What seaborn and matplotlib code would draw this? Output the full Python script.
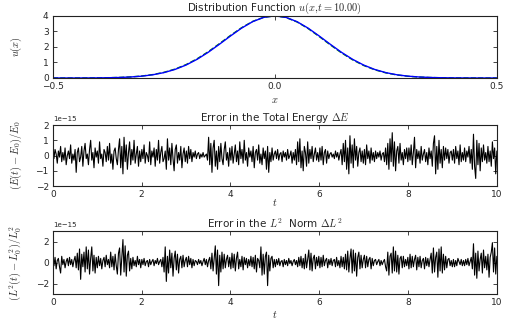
import numpy as np
import matplotlib
matplotlib.use('Agg')
import matplotlib.pyplot as plt
import seaborn as sns

# distribution function u(x) at t = 10
x_vals = [-0.5, -0.475, -0.45, -0.425, -0.4, -0.375, -0.35, -0.325, -0.3, -0.275,
          -0.25, -0.225, -0.2, -0.175, -0.15, -0.125, -0.1, -0.075, -0.05, -0.025,
          0.0, 0.025, 0.05, 0.075, 0.1, 0.125, 0.15, 0.175, 0.2, 0.225,
          0.25, 0.275, 0.3, 0.325, 0.35, 0.375, 0.4, 0.425, 0.45, 0.475, 0.5]
u_num = [0.0, 0.0, 0.001, 0.003, 0.008, 0.016, 0.033, 0.064, 0.117, 0.206,
         0.345, 0.549, 0.833, 1.204, 1.655, 2.168, 2.702, 3.208, 3.626, 3.903,
         4.0, 3.903, 3.626, 3.208, 2.702, 2.168, 1.655, 1.204, 0.833, 0.549,
         0.345, 0.206, 0.117, 0.064, 0.033, 0.016, 0.008, 0.003, 0.001, 0.0, 0.0]
u_init = [0.0, 0.0, 0.001, 0.003, 0.009, 0.018, 0.036, 0.069, 0.125, 0.219,
          0.362, 0.572, 0.862, 1.238, 1.693, 2.207, 2.738, 3.236, 3.644, 3.910,
          4.0, 3.896, 3.607, 3.180, 2.666, 2.130, 1.618, 1.171, 0.805, 0.527,
          0.329, 0.195, 0.110, 0.059, 0.030, 0.015, 0.007, 0.003, 0.001, 0.0, 0.0]

# relative errors in units of 1e-15, 40 samples per unit of time
energy_err = [
    0.9, -0.2, 0.4, 0.1, -0.5, 0.3, -0.1, 0.6, -0.4, 0.2,
    -0.3, 0.5, -0.6, 0.0, 0.3, -0.2, 0.7, -0.5, 0.1, -0.3,
    0.4, -1.1, 0.2, 0.5, -0.4, -0.1, 0.6, -0.7, 0.3, 0.8,
    -0.2, 0.1, -0.6, 0.4, 1.0, -0.3, 0.2, -0.8, 0.5, -0.1,
    0.3, -0.5, 0.9, -0.2, 0.1, -0.7, 0.4, 0.2, -0.4, 0.6,
    -0.3, 0.8, -0.5, 0.1, -0.9, 0.3, 0.5, -0.2, -0.6, 0.4,
    1.1, -0.8, 0.6, -1.2, 1.2, -0.4, 0.7, -0.9, 0.2, 0.9,
    -0.6, 0.4, -0.3, 1.0, -0.5, 0.1, 0.6, -0.7, 0.3, -0.4,
    0.4, -0.2, 0.7, -0.5, 0.2, 0.0, -0.4, 0.9, -0.6, 0.3,
    -0.1, 0.5, -0.7, 0.4, -0.3, 1.0, -0.5, 0.2, 0.6, -0.4,
    -0.2, 0.3, -0.9, 1.1, -0.3, 0.5, -0.6, 0.8, -0.2, -1.0,
    0.4, 0.7, -0.5, 0.2, -0.3, 0.6, -0.8, 0.1, 0.5, -0.4,
    0.3, -0.5, 0.6, -0.2, 0.4, -0.4, 0.2, -0.1, 0.3, -0.2,
    0.1, 0.2, -0.2, 0.1, -0.1, 0.2, -0.1, 0.0, 0.1, -0.3,
    1.2, -0.6, 0.8, -1.1, 0.5, 1.0, -0.7, 0.3, -0.9, 0.6,
    -0.4, 0.8, -0.2, -0.6, 0.4, 0.9, -0.3, 0.2, -0.7, 0.5,
    -0.3, 0.6, -0.5, 0.1, 0.7, -0.4, 0.3, -0.6, 0.9, -0.2,
    0.4, -0.5, 1.0, -0.3, 0.2, -0.7, 0.5, -0.1, 0.3, -0.4,
    0.6, -0.8, 0.2, 0.4, -0.3, 0.7, -0.5, 0.1, -0.6, 0.5,
    -0.2, 0.3, -0.9, 0.6, -1.1, 0.2, -0.4, 0.5, -0.3, 0.1,
    0.3, -0.2, 0.4, -0.3, 0.1, 0.2, -0.4, 0.3, -0.1, 0.2,
    -0.3, 0.4, -0.2, 0.0, 0.3, -0.5, 0.2, -0.3, 0.4, -0.6,
    0.9, -0.4, 1.1, -0.8, 0.3, -1.0, 0.6, 0.2, -0.7, 0.9,
    -0.5, 0.4, -0.2, 0.6, -0.4, 0.1, 0.5, -0.3, 0.2, -0.4,
    0.5, -0.3, 0.6, -0.6, 0.2, 0.4, -0.5, 0.3, -0.2, 0.1,
    0.2, -0.1, 0.1, -0.2, 0.3, -0.1, 0.2, -0.3, 0.1, 0.4,
    -0.6, 0.8, -0.4, 1.0, -0.9, 0.5, -1.2, 1.3, -0.5, 0.7,
    -0.8, 1.1, -0.3, 0.6, -0.7, 0.2, 0.5, -0.4, 0.3, -0.5,
    0.4, -0.6, 0.7, -0.2, 0.3, -0.5, 0.5, -0.3, 0.2, -0.4,
    0.3, -0.2, 0.2, -0.1, 0.3, -0.3, 0.1, 0.2, -0.4, 0.5,
    -0.6, 0.8, -0.9, 1.1, -0.4, 1.5, -0.7, 0.9, -1.0, 0.3,
    0.6, -0.5, 0.8, -0.3, 0.2, -0.6, 0.4, -0.2, 0.5, -0.4,
    0.5, -0.3, 0.7, -0.6, 0.2, 1.2, -0.8, 0.4, -0.2, 0.3,
    -0.5, 0.6, -0.3, 0.1, 0.4, -0.4, 0.2, -0.6, 0.5, -0.2,
    0.3, -0.7, 0.8, 1.3, -1.2, 0.6, -0.9, 1.0, -0.5, 0.4,
    -0.8, 0.6, -0.3, 0.5, -0.2, 0.4, -0.5, 0.2, 0.3, -0.3,
    0.4, -0.5, 0.6, -0.2, 0.3, -0.6, 0.7, -0.4, 0.2, -0.3,
    0.5, -0.4, 0.3, -0.1, 0.6, -0.5, 0.4, -0.9, 1.4, -0.7,
    -1.5, 1.0, -0.6, 0.8, -1.0, 0.5, -0.4, 0.7, -0.3, 0.2,
    -0.5, 0.6, -0.4, 0.3, -0.7, 0.9, -0.2, 0.5, -1.2, 0.3,
]
l2_err = [
    0.8, -0.3, 0.5, -0.6, 0.2, 0.4, -0.4, -1.0, 0.6, -0.2,
    0.3, -0.5, 0.1, 0.4, -0.3, 0.5, -0.2, 0.3, -0.4, 0.2,
    0.6, -0.5, 0.9, -0.7, 1.3, -1.6, 0.8, -0.4, 1.0, -0.9,
    1.5, -0.6, 1.2, -1.1, 0.4, 1.5, -0.8, 0.7, -1.0, 0.5,
    -0.5, 0.6, -0.3, 0.4, -0.6, 0.2, 0.5, -0.4, 0.7, -0.2,
    0.3, -0.5, 1.0, -0.4, 0.6, -0.7, 0.8, -0.3, -1.1, 0.9,
    1.4, -1.2, 0.5, 2.2, -0.9, 1.6, -1.3, 0.7, 1.1, -0.8,
    0.4, -0.6, 0.5, -0.3, 0.2, -0.4, 0.6, -0.2, 0.3, -0.5,
    0.3, -0.2, 0.4, -0.3, 0.1, 0.2, -0.4, 0.3, -0.2, 0.1,
    0.3, -0.3, 0.2, -0.1, 0.4, -0.2, 0.1, 0.3, -0.4, 0.5,
    -0.9, 1.5, -1.8, 0.6, -1.0, 1.2, -0.5, 0.9, -1.3, 0.4,
    1.1, -0.7, 0.8, -1.0, 0.3, 0.6, -0.5, 0.7, -0.4, 0.2,
    0.5, -0.4, 0.6, -0.2, 0.4, -0.5, 0.3, -0.3, 0.2, 0.1,
    -0.2, 0.3, -0.1, 0.2, -0.3, 0.1, 0.4, -0.2, 0.3, -0.4,
    0.2, 0.5, -0.6, 0.9, -0.8, 0.4, 1.6, -1.1, 1.2, -2.2,
    0.7, -0.9, 1.0, -0.6, 0.8, -0.5, 0.3, 0.7, -0.4, 0.5,
    -0.6, 0.9, -0.5, 0.8, -0.8, 0.4, 1.0, -0.6, 0.3, -0.4,
    0.6, -0.7, 0.5, -0.2, 0.4, -0.5, 0.3, -0.3, 0.6, -0.4,
    0.5, -0.6, 0.7, -0.9, 0.4, 0.2, -0.5, 1.5, -1.2, 0.8,
    -1.1, 0.6, 1.0, -2.2, 0.7, -0.8, 0.4, 0.6, -0.5, 0.3,
    -0.4, 0.3, -0.2, 0.4, -0.3, 0.1, 0.2, -0.4, 0.3, -0.2,
    0.2, -0.3, 0.4, -0.1, 0.2, -0.3, 0.1, 0.3, -0.2, 0.2,
    -0.4, 0.5, -0.3, 0.6, -0.5, 0.4, -0.6, 0.8, -0.5, 0.3,
    1.2, -0.7, 0.9, -0.8, 0.4, 0.7, -0.6, 0.5, -0.3, 0.6,
    -0.5, 0.5, -0.4, 0.7, -0.3, 0.2, 0.4, -0.5, 0.3, -0.2,
    0.4, -0.3, 0.2, 0.3, -0.4, 0.5, -0.3, 0.2, -0.5, 0.6,
    -0.4, 0.5, -0.6, 0.8, -0.7, 1.1, -0.9, 0.4, 1.3, -1.0,
    1.2, -0.8, 0.9, -1.3, 0.5, 1.0, -0.6, 0.7, -0.5, 0.3,
    0.7, -0.5, 0.6, -0.4, 0.3, 0.5, -0.6, 0.4, -0.3, 0.2,
    0.3, -0.2, 0.1, 0.3, -0.3, 0.2, -0.2, 0.1, 0.3, -0.4,
    -0.8, 1.0, -1.2, 0.6, 0.9, -1.0, 1.5, -0.8, 1.1, -0.9,
    0.7, -1.1, 0.4, 0.6, -0.5, 0.6, -0.4, 0.3, -0.3, 0.5,
    -0.6, 0.8, -0.5, 0.6, -0.4, 0.3, 0.7, -0.7, 0.5, -0.4,
    0.6, -0.5, 0.2, 0.4, -0.6, 0.5, -0.3, 0.4, -0.4, 0.3,
    0.9, -1.0, 1.4, -0.9, 0.5, 1.0, -1.4, 1.3, -0.8, 1.5,
    -1.0, 0.8, -0.7, 0.6, -0.5, 0.3, 0.4, -0.3, 0.2, -0.4,
    0.3, -0.4, 0.2, -0.3, 0.4, 0.1, -0.2, 0.3, -0.3, 0.2,
    -0.3, 0.3, -0.2, 0.4, -0.3, 0.1, 0.5, -0.6, 1.8, -1.2,
    0.9, -1.5, 1.1, -0.8, 0.3, 0.9, -1.0, 1.2, -0.5, 0.6,
    -0.7, 0.8, -1.4, 0.5, 1.0, 1.9, -0.9, 1.4, -1.1, 0.6,
]
err_scale = 1e-15
t_start, t_end = 0.0, 10.0

sns.set_style('ticks')
plt.rcParams['font.family'] = ['DejaVu Sans']
plt.rcParams['mathtext.fontset'] = 'cm'
plt.rcParams['xtick.direction'] = 'in'
plt.rcParams['ytick.direction'] = 'in'
plt.rcParams['xtick.top'] = True
plt.rcParams['ytick.right'] = True
plt.rcParams['font.size'] = 6.5

fig = plt.figure(figsize=(5.23, 3.27), dpi=100)
ax1 = fig.add_axes([0.101, 0.7615, 0.849, 0.190])
ax2 = fig.add_axes([0.101, 0.431, 0.849, 0.1865])
ax3 = fig.add_axes([0.101, 0.101, 0.849, 0.192])

# distribution function
sns.lineplot(x=x_vals, y=u_init, ax=ax1, color='g', linestyle='--', linewidth=1.0)
sns.lineplot(x=x_vals, y=u_num, ax=ax1, color='b', linewidth=1.0)
ax1.set_xlim(-0.5, 0.5)
ax1.set_ylim(0, 4)
ax1.set_xticks([-0.5, 0.0, 0.5])
ax1.set_yticks([0, 1, 2, 3, 4])
ax1.set_title('Distribution Function $u(x{,}t=10.00)$', fontsize=7.5, pad=2)
ax1.set_xlabel('$x$', fontsize=7.5, labelpad=3)
ax1.set_ylabel('$u(x)$', fontsize=7.5)

# energy error
t_e = np.linspace(t_start, t_end, len(energy_err))
sns.lineplot(x=t_e, y=np.array(energy_err) * err_scale, ax=ax2, color='k', linewidth=0.8)
ax2.set_xlim(0, 10)
ax2.set_ylim(-2e-15, 2e-15)
ax2.set_yticks([-2e-15, -1e-15, 0, 1e-15, 2e-15])
ax2.set_title('Error in the Total Energy $\\Delta E$', fontsize=7.5, pad=2)
ax2.set_xlabel('$t$', fontsize=7.5, labelpad=-1.5)
ax2.set_ylabel('$(E(t)-E_0)/E_0$', fontsize=7.5)

# L2 norm error
t_l = np.linspace(t_start, t_end, len(l2_err))
sns.lineplot(x=t_l, y=np.array(l2_err) * err_scale, ax=ax3, color='k', linewidth=0.8)
ax3.set_xlim(0, 10)
ax3.set_ylim(-3e-15, 3e-15)
ax3.set_yticks([-2e-15, 0, 2e-15])
ax3.set_title('Error in the $L^2$  Norm $\\Delta L^2$', fontsize=7.5, pad=2)
ax3.set_xlabel('$t$', fontsize=7.5, labelpad=1)
ax3.set_ylabel('$(L^2(t)-L_0^2)/L_0^2$', fontsize=7.5)

for ax in (ax1, ax2, ax3):
    ax.tick_params(length=3, width=0.6, labelsize=6.5, pad=3)
    ax.yaxis.set_label_coords(-0.065, 0.5)
    ax.yaxis.get_offset_text().set_fontsize(5)
    for sp in ax.spines.values():
        sp.set_linewidth(0.8)
        sp.set_color('#222222')

fig.savefig('out.png', dpi=100)
